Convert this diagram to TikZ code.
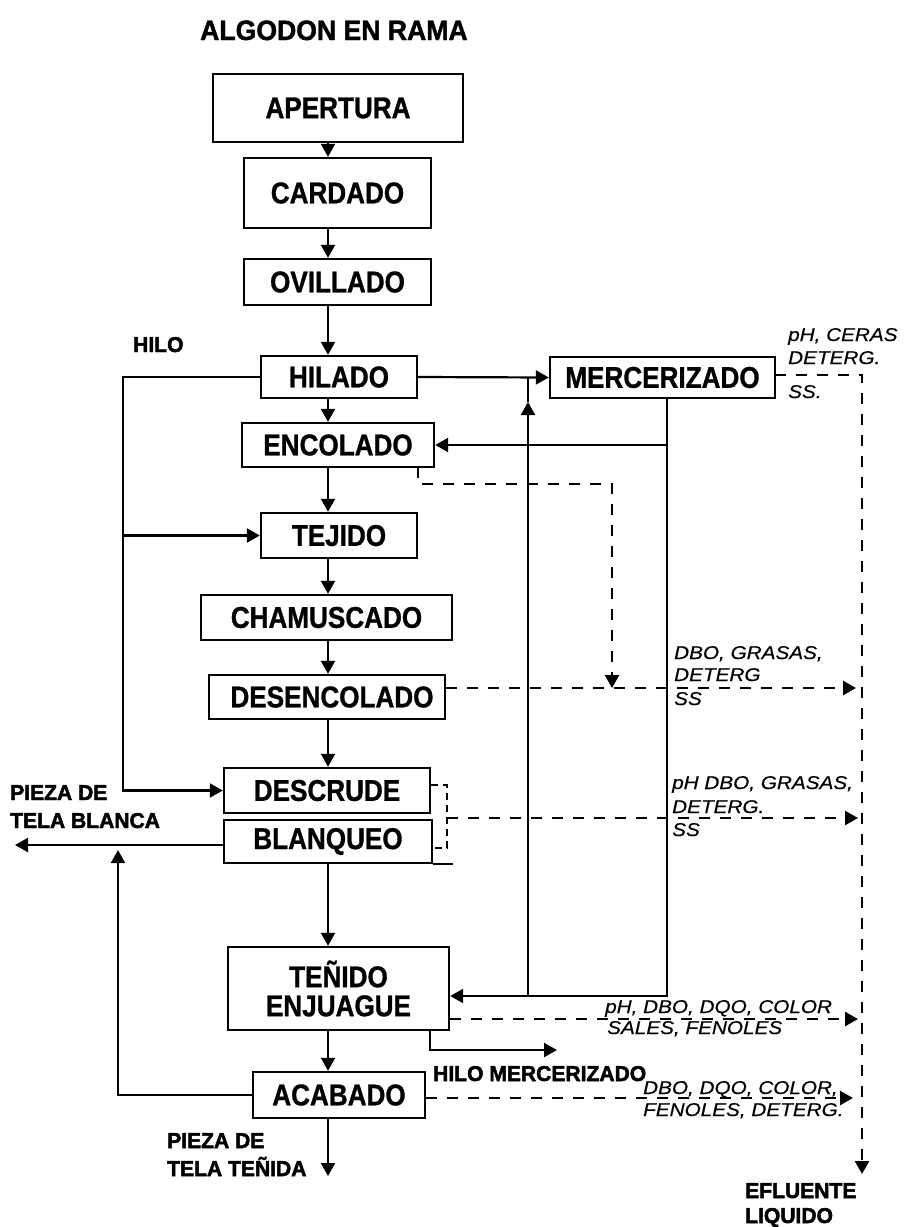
\documentclass[tikz,border=0pt]{standalone}
\usepackage{fontspec}
\setmainfont{Liberation Sans}
\newfontfamily\boxfont{Liberation Sans}[FakeStretch=0.87,FakeBold=1]
\newfontfamily\titfont{Liberation Sans}[FakeStretch=0.95,FakeBold=1.5]
\newfontfamily\lblfont{Liberation Sans}[FakeStretch=0.98,FakeBold=2.2]
\newfontfamily\itfont{Liberation Sans}[FakeStretch=1.12,FakeBold=0.4]
\usetikzlibrary{arrows.meta}
\begin{document}
\begin{tikzpicture}[x=1pt,y=-1pt,
  proc/.style={draw,line width=2.4pt,inner sep=0pt,align=center,
    font=\boxfont\bfseries\fontsize{30}{32}\selectfont},
  ln/.style={line width=2.2pt},
  arr/.style={ln,-{Triangle[length=13pt,width=14pt]}},
  dsh/.style={line width=2.4pt,dash pattern=on 11pt off 10pt},
  darr/.style={dsh,-{Triangle[length=13pt,width=14pt]}},
  blbl/.style={inner sep=0pt,anchor=base west,font=\lblfont\bfseries\fontsize{21.5}{24}\selectfont},
  ilbl/.style={inner sep=0pt,anchor=base west,font=\itfont\itshape\fontsize{18.5}{20}\selectfont}]
\path[use as bounding box,fill=white] (0,0) rectangle (908,1227);

% title
\node[inner sep=0pt,anchor=base west,font=\titfont\bfseries\fontsize{28}{30}\selectfont] (title) at (200,40) {ALGODON EN RAMA};

% process boxes
\node[proc,minimum width=250,minimum height=68] (apertura) at (338,108) {APERTURA};
\node[proc,minimum width=187,minimum height=70] (cardado) at (337.5,193) {CARDADO};
\node[proc,minimum width=187,minimum height=46] (ovillado) at (337.5,282) {OVILLADO};
\node[proc,minimum width=156,minimum height=42] (hilado) at (339,377) {HILADO};
\node[proc,minimum width=192,minimum height=44] (encolado) at (338,445) {ENCOLADO};
\node[proc,minimum width=156,minimum height=45] (tejido) at (339,535.5) {TEJIDO};
\node[proc,minimum width=251,minimum height=45] (chamuscado) at (326.5,617.5) {CHAMUSCADO};
\node[proc,minimum width=236,minimum height=44] (desencolado) at (327,697) {\hspace*{10pt}DESENCOLADO};
\node[proc,minimum width=206,minimum height=45] (descrude) at (327,790.5) {DESCRUDE};
\node[proc,minimum width=208,minimum height=43] (blanqueo) at (328,841.5) {BLANQUEO};
\node[proc,minimum width=221,minimum height=83] (tenido) at (338.5,988.5) {TEÑIDO\\[-3pt]ENJUAGUE};
\node[proc,minimum width=172,minimum height=46] (acabado) at (339,1095) {ACABADO};
\node[proc,minimum width=225,minimum height=41] (merc) at (662.5,377.5) {MERCERIZADO};

% helper coordinates
\coordinate (mx) at (328,0);
\coordinate (hx) at (123,0);
\coordinate (lx) at (118,0);
\coordinate (vx1) at (528,0);
\coordinate (vx2) at (667,0);
\coordinate (dx) at (862,0);
\coordinate (blancaEnd) at (15,845);
\coordinate (loopTip) at (118,850);
\coordinate (telaEnd) at (328,1176);
\coordinate (hmA) at (430,1050);
\coordinate (hmEnd) at (557,1050);
\coordinate (jTen) at (0,996);
\coordinate (upTip) at (528,402);
\coordinate (efEnd) at (862,1174);

% main flow
\draw[arr] (apertura.south -| mx) -- (cardado.north -| mx);
\draw[arr] (cardado.south -| mx) -- (ovillado.north -| mx);
\draw[arr] (ovillado.south -| mx) -- (hilado.north -| mx);
\draw[arr] (hilado.south -| mx) -- (encolado.north -| mx);
\draw[arr] (encolado.south -| mx) -- (tejido.north -| mx);
\draw[arr] (tejido.south -| mx) -- (chamuscado.north -| mx);
\draw[arr] (chamuscado.south -| mx) -- (desencolado.north -| mx);
\draw[arr] (desencolado.south -| mx) -- (descrude.north -| mx);
\draw[arr] (blanqueo.south -| mx) -- (tenido.north -| mx);
\draw[arr] (tenido.south -| mx) -- (acabado.north -| mx);
\draw[arr] (acabado.south -| mx) -- (telaEnd);

% HILO bypass
\draw[arr] (hilado.west) -- (hilado.west -| hx) -- (descrude.west -| hx) -- (descrude.west);
\draw[arr] (tejido.west -| hx) -- (tejido.west);

% white fabric out, finishing loop
\draw[arr] (blanqueo.west |- blancaEnd) -- (blancaEnd);
\draw[arr] (acabado.west) -- (acabado.west -| lx) -- (loopTip);

% hilo mercerizado
\draw[arr] (tenido.south -| hmA) -- (hmA) -- (hmEnd);

% mercerizado branch
\draw[arr] (hilado.east) -- (merc.west);
\draw[ln] (merc.south -| vx2) -- (jTen -| vx2) -- (jTen -| vx1);
\draw[arr] (jTen -| vx1) -- (upTip);
\draw[ln] (upTip) -- (hilado.east -| vx1);
\draw[arr] (encolado.east -| vx2) -- (encolado.east);
\draw[arr] (jTen -| vx1) -- (tenido.east |- jTen);

% effluent dashed lines
\coordinate (m1) at (775,375);
\draw[darr] (m1) -- (m1 -| dx) -- (efEnd);
\coordinate (e1) at (418,467);
\coordinate (e2) at (418,484);
\coordinate (e3) at (612,484);
\coordinate (e4) at (612,688);
\draw[darr] (e1) -- (e2) -- (e3) -- (e4);
\coordinate (d1) at (856,688);
\draw[darr] (desencolado.east |- d1) -- (d1);
\coordinate (b1) at (447,785);
\coordinate (b2) at (447,848);
\draw[dsh,dash pattern=on 7pt off 5pt] (descrude.east |- b1) -- (b1) -- (b2) -- (blanqueo.east |- b2);
\draw[ln] (blanqueo.south east) -- ++(20,0);
\coordinate (b3) at (858,818);
\draw[darr] (b3 -| b1) -- (b3);
\coordinate (t1) at (858,1019);
\draw[darr] (tenido.east |- t1) -- (t1);
\coordinate (a1) at (853,1098);
\draw[darr] (acabado.east |- a1) -- (a1);

% bold labels
\node[blbl] (lhilo) at (133,352) {HILO};
\node[blbl] (lpz1) at (10,800) {PIEZA DE};
\node[blbl] (lpz2) at (10,828) {TELA BLANCA};
\node[blbl] (lhm) at (433,1081) {HILO MERCERIZADO};
\node[blbl] (lpt1) at (167,1148) {PIEZA DE};
\node[blbl] (lpt2) at (167,1176) {TELA TEÑIDA};
\node[blbl] (lef1) at (745,1198) {EFLUENTE};
\node[blbl] (lef2) at (745,1223) {LIQUIDO};

% italic effluent labels
\node[ilbl] (c1a) at (788,341) {pH, CERAS};
\node[ilbl] (c1b) at (788,364) {DETERG.};
\node[ilbl] (c1c) at (788,398) {SS.};
\node[ilbl] (c2a) at (674,659) {DBO, GRASAS,};
\node[ilbl] (c2b) at (674,681) {DETERG};
\node[ilbl] (c2c) at (674,705) {SS};
\node[ilbl] (c3a) at (672,789) {pH DBO, GRASAS,};
\node[ilbl] (c3b) at (672,813) {DETERG.};
\node[ilbl] (c3c) at (672,836) {SS};
\node[ilbl] (c4a) at (605,1013) {pH, DBO, DQO, COLOR};
\node[ilbl] (c4b) at (607,1034) {SALES, FENOLES};
\node[ilbl] (c5a) at (643,1094) {DBO, DQO, COLOR,};
\node[ilbl] (c5b) at (643,1116) {FENOLES, DETERG.};
\end{tikzpicture}
\end{document}
